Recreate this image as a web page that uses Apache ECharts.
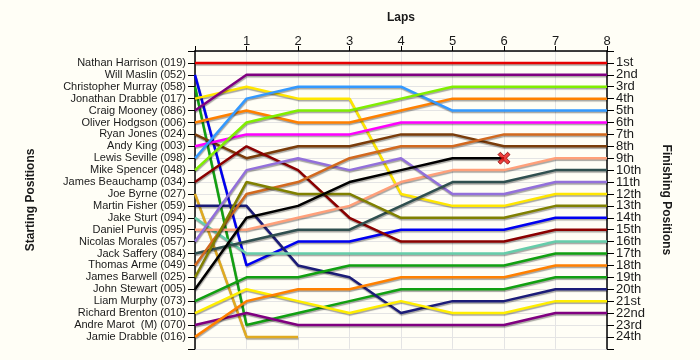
<!DOCTYPE html>
<html>
<head>
<meta charset="utf-8">
<script src="https://cdn.jsdelivr.net/npm/echarts@6/dist/echarts.min.js"></script>
<style>
html,body{margin:0;padding:0;background:#fffef6;}
#chart{width:700px;height:360px;}
</style>
</head>
<body>
<div id="chart"></div>
<script>
// Lap tick labels
const laps = [0, 1, 2, 3, 4, 5, 6, 7, 8];
// Starting grid (drivers in starting order)
const drivers = [
  "Nathan Harrison (019)", "Will Maslin (052)", "Christopher Murray (058)", "Jonathan Drabble (017)",
  "Craig Mooney (086)", "Oliver Hodgson (006)", "Ryan Jones (024)", "Andy King (003)",
  "Lewis Seville (098)", "Mike Spencer (048)", "James Beauchamp (034)", "Joe Byrne (027)",
  "Martin Fisher (059)", "Jake Sturt (094)", "Daniel Purvis (095)", "Nicolas Morales (057)",
  "Jack Saffery (084)", "Thomas Arme (049)", "James Barwell (025)", "John Stewart (005)",
  "Liam Murphy (073)", "Richard Brenton (010)", "Andre Marot  (M) (070)", "Jamie Drabble (016)"
];
// Finishing position labels
const finishLabels = ["1st","2nd","3rd","4th","5th","6th","7th","8th","9th","10th","11th","12th",
  "13th","14th","15th","16th","17th","18th","19th","20th","21st","22nd","23rd","24th"];

// Position of each driver at laps 0..8 (null = retired)
const posHarrison  = [1, 1, 1, 1, 1, 1, 1, 1, 1];
const posMaslin    = [2, 18, 16, 16, 15, 15, 15, 14, 14];
const posMurray    = [3, 23, 22, 21, 20, 20, 20, 19, 19];
const posJDrabble  = [4, 3, 4, 4, 12, 13, 13, 12, 12];
const posMooney    = [5, 2, 2, 2, 2, 2, 2, 2, 2];
const posHodgson   = [6, 5, 6, 6, 5, 4, 4, 4, 4];
const posJones     = [7, 9, 8, 8, 7, 7, 8, 8, 8];
const posKing      = [8, 7, 7, 7, 6, 6, 6, 6, 6];
const posSeville   = [9, 4, 3, 3, 3, 5, 5, 5, 5];
const posSpencer   = [10, 6, 5, 5, 4, 3, 3, 3, 3];
const posBeauchamp = [11, 8, 10, 14, 16, 16, 16, 15, 15];
const posByrne     = [12, 24, 24, null, null, null, null, null, null];
const posFisher    = [13, 13, 18, 19, 22, 21, 21, 20, 20];
const posSturt     = [14, 17, 17, 17, 17, 17, 17, 16, 16];
const posPurvis    = [15, 15, 14, 13, 11, 10, 10, 9, 9];
const posMorales   = [16, 10, 9, 10, 9, 12, 12, 11, 11];
const posSaffery   = [17, 16, 15, 15, 13, 11, 11, 10, 10];
const posArme      = [18, 12, 11, 9, 8, 8, 7, 7, 7];
const posBarwell   = [19, 11, 12, 12, 14, 14, 14, 13, 13];
const posStewart   = [20, 14, 13, 11, 10, 9, 9, null, null];
const posMurphy    = [21, 19, 19, 18, 18, 18, 18, 17, 17];
const posBrenton   = [22, 20, 21, 22, 21, 22, 22, 21, 21];
const posMarot     = [23, 22, 23, 23, 23, 23, 23, 22, 22];
const posDrabble16 = [24, 21, 20, 20, 19, 19, 19, 18, 18];

const positions = [posHarrison, posMaslin, posMurray, posJDrabble, posMooney, posHodgson, posJones,
  posKing, posSeville, posSpencer, posBeauchamp, posByrne, posFisher, posSturt, posPurvis, posMorales,
  posSaffery, posArme, posBarwell, posStewart, posMurphy, posBrenton, posMarot, posDrabble16];

// Line colours (style, kept separate from data)
const palette = ["#e60000", "#0000f0", "#11a011", "#ffe600", "#800080", "#ff8000", "#7a3c0a", "#ff00ff",
  "#3399ff", "#80ee00", "#8b0000", "#e0aa20", "#1c1c78", "#66cdaa", "#ffa07a", "#9370db",
  "#2f4f4f", "#d2691e", "#808000", "#000000", "#11a011", "#ffee00", "#800080", "#ff8000"];

const series = positions.map((arr, i) => ({
  type: 'line',
  name: drivers[i],
  data: arr.map((p, k) => [laps[k], p]).filter(d => d[1] !== null),
  symbol: 'none',
  z: 3,
  lineStyle: {
    color: palette[i], width: 2.5,
    shadowColor: 'rgba(0,0,0,0.35)', shadowBlur: 1, shadowOffsetX: 0.5, shadowOffsetY: 1.5
  },
  silent: true
}));

// Retirement marker for a driver who stopped after lap 2 but before the final lap
const retiredMarks = [];
positions.forEach((arr, i) => {
  let last = -1;
  arr.forEach((p, k) => { if (p !== null) last = k; });
  if (last < laps.length - 1 && last > 2) retiredMarks.push([laps[last], arr[last]]);
});
series.push({
  type: 'scatter',
  data: retiredMarks,
  symbol: 'path://M2,0 L5,3 L8,0 L10,2 L7,5 L10,8 L8,10 L5,7 L2,10 L0,8 L3,5 L0,2 Z',
  symbolSize: 12,
  z: 5,
  itemStyle: { color: '#ee1111', borderColor: '#800000', borderWidth: 1 }
});

const chart = echarts.init(document.getElementById('chart'), null, { renderer: 'canvas' });
const textColor = '#1a1a1a';
chart.setOption({
  backgroundColor: '#fffef6',
  animation: false,
  grid: { left: 195, right: 93, top: 51, bottom: 11.2, containLabel: false },
  xAxis: {
    type: 'value', position: 'top', min: 0, max: 8, interval: 1,
    name: 'Laps', nameLocation: 'middle', nameGap: 27,
    nameTextStyle: { fontWeight: 'bold', fontSize: 12, color: textColor, fontFamily: 'Liberation Sans' },
    axisLine: { show: true, lineStyle: { color: '#000', width: 1.5 } },
    axisTick: { show: true, length: 5, lineStyle: { color: '#000' } },
    axisLabel: { formatter: v => v === 0 ? '' : String(v), margin: 3, fontSize: 13, color: textColor, fontFamily: 'Liberation Sans' },
    splitLine: { show: true, lineStyle: { color: '#e4e4e4', width: 1 } }
  },
  yAxis: [
    {
      type: 'value', inverse: true, min: 0, max: 25, interval: 1, position: 'left',
      name: 'Starting Positions', nameLocation: 'middle', nameGap: 158,
      nameTextStyle: { fontWeight: 'bold', fontSize: 12, color: textColor, fontFamily: 'Liberation Sans' },
      axisLine: { show: true, lineStyle: { color: '#000', width: 1.5 } },
      axisTick: { show: true, length: 7, lineStyle: { color: '#000' } },
      axisLabel: {
        formatter: v => (v >= 1 && v <= drivers.length) ? drivers[v - 1] : '',
        margin: 9, fontSize: 11, color: textColor, fontFamily: 'Liberation Sans'
      },
      splitLine: { show: true, lineStyle: { color: '#e4e4e4', width: 1 } }
    },
    {
      type: 'value', inverse: true, min: 0, max: 25, interval: 1, position: 'right',
      name: 'Finishing Positions', nameLocation: 'middle', nameGap: 53, nameRotate: -90,
      nameTextStyle: { fontWeight: 'bold', fontSize: 12, color: textColor, fontFamily: 'Liberation Sans' },
      axisLine: { show: true, lineStyle: { color: '#000', width: 1.5 } },
      axisTick: { show: true, length: 7, lineStyle: { color: '#000' } },
      axisLabel: {
        formatter: v => (v >= 1 && v <= finishLabels.length) ? finishLabels[v - 1] : '',
        margin: 9, fontSize: 13, color: textColor, fontFamily: 'Liberation Sans'
      },
      splitLine: { show: false }
    }
  ],
  series: series
});
</script>
</body>
</html>
